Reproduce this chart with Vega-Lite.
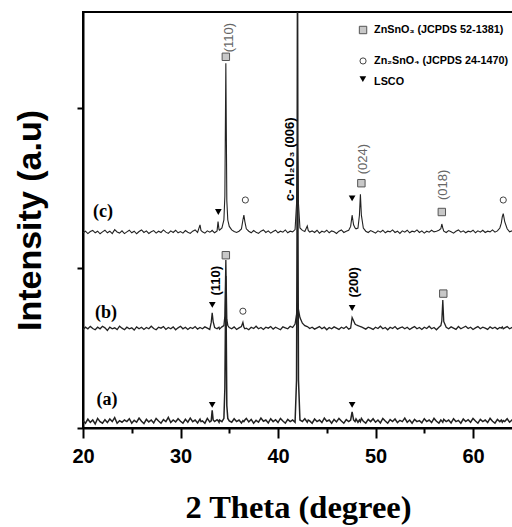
{
"$schema": "https://vega.github.io/schema/vega-lite/v6.json",
"autosize": {"type": "none"},
"padding": {"left": 83, "top": 12, "right": 0, "bottom": 99},
"width": 430,
"height": 416,
"background": "white",
"config": {"view": {"stroke": "black", "strokeWidth": 2}, "axis": {"grid": false}},
"encoding": {
  "x": {"field": "x", "type": "quantitative", "scale": {"domain": [20, 64.1], "nice": false, "zero": false},
    "axis": {"values": [20, 25, 30, 35, 40, 45, 50, 55, 60], "labelExpr": "datum.value % 10 === 0 ? datum.label : ''",
      "tickSize": {"condition": {"test": "datum.value % 10 === 0", "value": 10}, "value": 5},
      "tickWidth": 2, "tickColor": "black", "domainColor": "black", "domainWidth": 2, "labelFlush": false,
      "labelFont": "Liberation Sans", "labelFontWeight": "bold", "labelFontSize": 20, "labelColor": "black", "labelPadding": 8,
      "title": "2 Theta (degree)", "titleFont": "Liberation Serif", "titleFontSize": 32.5, "titleFontWeight": "bold", "titleColor": "black", "titlePadding": 25}},
  "y": {"field": "y", "type": "quantitative", "scale": {"domain": [0, 2.6], "nice": false, "zero": false},
    "axis": {"values": [0, 1, 2], "labels": false, "tickSize": 6, "tickWidth": 2, "tickColor": "black", "domainColor": "black", "domainWidth": 2,
      "title": "Intensity (a.u)", "titleFont": "Liberation Sans", "titleFontSize": 34, "titleFontWeight": "bold", "titleColor": "black", "titlePadding": 29}}
},
"layer": [
{
"data": {"values": [
{"x":20,"a":0.045,"b":0.615,"c":1.22},
{"x":20.25,"a":0.03,"b":0.63,"c":1.23},
{"x":20.5,"a":0.055,"b":0.62,"c":1.215},
{"x":20.75,"a":0.035,"b":0.635,"c":1.228},
{"x":21,"a":0.05,"b":0.622,"c":1.235},
{"x":21.25,"a":0.025,"b":0.614,"c":1.22},
{"x":21.5,"a":0.06,"b":0.63,"c":1.23},
{"x":21.75,"a":0.04,"b":0.62,"c":1.214},
{"x":22,"a":0.03,"b":0.636,"c":1.226},
{"x":22.25,"a":0.052,"b":0.626,"c":1.236},
{"x":22.5,"a":0.034,"b":0.61,"c":1.22},
{"x":22.75,"a":0.056,"b":0.63,"c":1.23},
{"x":23,"a":0.04,"b":0.62,"c":1.215},
{"x":23.25,"a":0.065,"b":0.626,"c":1.24},
{"x":23.5,"a":0.03,"b":0.615,"c":1.225},
{"x":23.75,"a":0.046,"b":0.636,"c":1.218},
{"x":24,"a":0.036,"b":0.624,"c":1.232},
{"x":24.25,"a":0.05,"b":0.614,"c":1.215},
{"x":24.5,"a":0.04,"b":0.63,"c":1.226},
{"x":24.75,"a":0.058,"b":0.62,"c":1.236},
{"x":25,"a":0.03,"b":0.626,"c":1.22},
{"x":25.25,"a":0.048,"b":0.612,"c":1.23},
{"x":25.5,"a":0.036,"b":0.632,"c":1.214},
{"x":25.75,"a":0.062,"b":0.62,"c":1.228},
{"x":26,"a":0.042,"b":0.63,"c":1.238},
{"x":26.25,"a":0.028,"b":0.616,"c":1.222},
{"x":26.5,"a":0.054,"b":0.628,"c":1.232},
{"x":26.75,"a":0.038,"b":0.62,"c":1.216},
{"x":27,"a":0.05,"b":0.636,"c":1.226},
{"x":27.25,"a":0.032,"b":0.622,"c":1.234},
{"x":27.5,"a":0.06,"b":0.614,"c":1.218},
{"x":27.75,"a":0.044,"b":0.63,"c":1.23},
{"x":28,"a":0.03,"b":0.624,"c":1.222},
{"x":28.25,"a":0.052,"b":0.634,"c":1.238},
{"x":28.5,"a":0.04,"b":0.616,"c":1.224},
{"x":28.75,"a":0.066,"b":0.628,"c":1.216},
{"x":29,"a":0.034,"b":0.62,"c":1.232},
{"x":29.25,"a":0.05,"b":0.632,"c":1.222},
{"x":29.5,"a":0.038,"b":0.614,"c":1.236},
{"x":29.75,"a":0.058,"b":0.626,"c":1.22},
{"x":30,"a":0.042,"b":0.636,"c":1.228},
{"x":30.25,"a":0.03,"b":0.62,"c":1.218},
{"x":30.5,"a":0.054,"b":0.63,"c":1.234},
{"x":30.75,"a":0.036,"b":0.616,"c":1.224},
{"x":31,"a":0.062,"b":0.628,"c":1.216},
{"x":31.25,"a":0.04,"b":0.622,"c":1.23},
{"x":31.5,"a":0.05,"b":0.634,"c":1.238},
{"x":31.75,"a":0.032,"b":0.618,"c":1.222},
{"x":32,"a":0.056,"b":0.628,"c":1.27},
{"x":32.1,"a":0.04,"b":0.625,"c":1.235},
{"x":32.25,"a":0.044,"b":0.62,"c":1.226},
{"x":32.5,"a":0.03,"b":0.632,"c":1.218},
{"x":32.75,"a":0.06,"b":0.624,"c":1.232},
{"x":33,"a":0.038,"b":0.616,"c":1.224},
{"x":33.15,"a":0.045,"b":0.66,"c":1.23},
{"x":33.25,"a":0.11,"b":0.72,"c":1.236},
{"x":33.35,"a":0.05,"b":0.665,"c":1.228},
{"x":33.5,"a":0.04,"b":0.628,"c":1.22},
{"x":33.75,"a":0.052,"b":0.62,"c":1.232},
{"x":33.85,"a":0.046,"b":0.626,"c":1.29},
{"x":33.95,"a":0.036,"b":0.63,"c":1.24},
{"x":34,"a":0.05,"b":0.618,"c":1.236},
{"x":34.25,"a":0.04,"b":0.632,"c":1.25},
{"x":34.45,"a":0.06,"b":0.64,"c":1.3},
{"x":34.55,"a":0.25,"b":0.7,"c":1.45},
{"x":34.65,"a":0.95,"b":1.05,"c":2.28},
{"x":34.75,"a":0.14,"b":0.68,"c":1.42},
{"x":34.85,"a":0.06,"b":0.64,"c":1.3},
{"x":35,"a":0.044,"b":0.628,"c":1.26},
{"x":35.25,"a":0.036,"b":0.62,"c":1.238},
{"x":35.5,"a":0.058,"b":0.632,"c":1.228},
{"x":35.75,"a":0.04,"b":0.616,"c":1.222},
{"x":36,"a":0.05,"b":0.626,"c":1.23},
{"x":36.25,"a":0.032,"b":0.634,"c":1.244},
{"x":36.4,"a":0.046,"b":0.66,"c":1.3},
{"x":36.5,"a":0.04,"b":0.63,"c":1.33},
{"x":36.6,"a":0.05,"b":0.62,"c":1.29},
{"x":36.75,"a":0.06,"b":0.624,"c":1.245},
{"x":37,"a":0.038,"b":0.614,"c":1.23},
{"x":37.25,"a":0.054,"b":0.63,"c":1.22},
{"x":37.5,"a":0.03,"b":0.622,"c":1.234},
{"x":37.75,"a":0.048,"b":0.636,"c":1.224},
{"x":38,"a":0.036,"b":0.62,"c":1.216},
{"x":38.25,"a":0.062,"b":0.628,"c":1.23},
{"x":38.5,"a":0.042,"b":0.616,"c":1.238},
{"x":38.75,"a":0.05,"b":0.63,"c":1.222},
{"x":39,"a":0.032,"b":0.624,"c":1.232},
{"x":39.25,"a":0.058,"b":0.634,"c":1.218},
{"x":39.5,"a":0.04,"b":0.618,"c":1.228},
{"x":39.75,"a":0.052,"b":0.63,"c":1.236},
{"x":40,"a":0.034,"b":0.622,"c":1.22},
{"x":40.25,"a":0.06,"b":0.614,"c":1.23},
{"x":40.5,"a":0.044,"b":0.632,"c":1.224},
{"x":40.75,"a":0.03,"b":0.626,"c":1.238},
{"x":41,"a":0.054,"b":0.62,"c":1.22},
{"x":41.25,"a":0.04,"b":0.636,"c":1.23},
{"x":41.5,"a":0.05,"b":0.628,"c":1.226},
{"x":41.75,"a":0.036,"b":0.65,"c":1.24},
{"x":41.9,"a":0.3,"b":0.71,"c":1.4},
{"x":41.95,"a":1.2,"b":0.74,"c":1.6},
{"x":42,"a":3.0,"b":0.78,"c":1.75},
{"x":42.05,"a":1.2,"b":0.76,"c":1.6},
{"x":42.1,"a":0.3,"b":0.74,"c":1.4},
{"x":42.25,"a":0.05,"b":0.69,"c":1.25},
{"x":42.5,"a":0.04,"b":0.655,"c":1.235},
{"x":42.75,"a":0.058,"b":0.64,"c":1.228},
{"x":43,"a":0.036,"b":0.634,"c":1.262},
{"x":43.1,"a":0.05,"b":0.63,"c":1.235},
{"x":43.25,"a":0.044,"b":0.622,"c":1.225},
{"x":43.5,"a":0.03,"b":0.63,"c":1.232},
{"x":43.75,"a":0.056,"b":0.618,"c":1.222},
{"x":44,"a":0.04,"b":0.626,"c":1.236},
{"x":44.25,"a":0.05,"b":0.634,"c":1.218},
{"x":44.5,"a":0.034,"b":0.62,"c":1.23},
{"x":44.75,"a":0.062,"b":0.63,"c":1.224},
{"x":45,"a":0.042,"b":0.614,"c":1.236},
{"x":45.25,"a":0.05,"b":0.628,"c":1.22},
{"x":45.5,"a":0.03,"b":0.62,"c":1.232},
{"x":45.75,"a":0.054,"b":0.632,"c":1.226},
{"x":46,"a":0.038,"b":0.624,"c":1.216},
{"x":46.25,"a":0.06,"b":0.616,"c":1.23},
{"x":46.5,"a":0.044,"b":0.63,"c":1.238},
{"x":46.75,"a":0.03,"b":0.622,"c":1.222},
{"x":47,"a":0.052,"b":0.634,"c":1.23},
{"x":47.25,"a":0.04,"b":0.618,"c":1.236},
{"x":47.45,"a":0.05,"b":0.625,"c":1.26},
{"x":47.6,"a":0.1,"b":0.69,"c":1.33},
{"x":47.75,"a":0.05,"b":0.67,"c":1.27},
{"x":47.9,"a":0.04,"b":0.65,"c":1.25},
{"x":48,"a":0.056,"b":0.645,"c":1.245},
{"x":48.2,"a":0.036,"b":0.64,"c":1.25},
{"x":48.35,"a":0.05,"b":0.636,"c":1.33},
{"x":48.45,"a":0.04,"b":0.634,"c":1.46},
{"x":48.55,"a":0.06,"b":0.632,"c":1.33},
{"x":48.75,"a":0.042,"b":0.626,"c":1.25},
{"x":49,"a":0.03,"b":0.618,"c":1.23},
{"x":49.25,"a":0.054,"b":0.63,"c":1.222},
{"x":49.5,"a":0.04,"b":0.624,"c":1.234},
{"x":49.75,"a":0.058,"b":0.616,"c":1.226},
{"x":50,"a":0.036,"b":0.63,"c":1.218},
{"x":50.25,"a":0.05,"b":0.622,"c":1.232},
{"x":50.5,"a":0.032,"b":0.636,"c":1.224},
{"x":50.75,"a":0.06,"b":0.62,"c":1.236},
{"x":51,"a":0.044,"b":0.628,"c":1.22},
{"x":51.25,"a":0.03,"b":0.614,"c":1.23},
{"x":51.5,"a":0.052,"b":0.63,"c":1.226},
{"x":51.75,"a":0.04,"b":0.622,"c":1.238},
{"x":52,"a":0.056,"b":0.634,"c":1.222},
{"x":52.25,"a":0.034,"b":0.618,"c":1.23},
{"x":52.5,"a":0.048,"b":0.626,"c":1.216},
{"x":52.75,"a":0.04,"b":0.632,"c":1.232},
{"x":53,"a":0.062,"b":0.62,"c":1.224},
{"x":53.25,"a":0.036,"b":0.63,"c":1.236},
{"x":53.5,"a":0.05,"b":0.616,"c":1.22},
{"x":53.75,"a":0.03,"b":0.626,"c":1.23},
{"x":54,"a":0.054,"b":0.634,"c":1.226},
{"x":54.25,"a":0.04,"b":0.62,"c":1.238},
{"x":54.5,"a":0.046,"b":0.628,"c":1.222},
{"x":54.75,"a":0.032,"b":0.616,"c":1.232},
{"x":55,"a":0.058,"b":0.63,"c":1.218},
{"x":55.25,"a":0.04,"b":0.622,"c":1.23},
{"x":55.5,"a":0.05,"b":0.636,"c":1.224},
{"x":55.75,"a":0.034,"b":0.62,"c":1.236},
{"x":56,"a":0.06,"b":0.628,"c":1.226},
{"x":56.25,"a":0.042,"b":0.614,"c":1.23},
{"x":56.5,"a":0.03,"b":0.63,"c":1.236},
{"x":56.7,"a":0.05,"b":0.64,"c":1.245},
{"x":56.8,"a":0.044,"b":0.67,"c":1.275},
{"x":56.9,"a":0.036,"b":0.8,"c":1.25},
{"x":57,"a":0.054,"b":0.665,"c":1.23},
{"x":57.25,"a":0.04,"b":0.63,"c":1.222},
{"x":57.5,"a":0.05,"b":0.62,"c":1.234},
{"x":57.75,"a":0.032,"b":0.632,"c":1.226},
{"x":58,"a":0.058,"b":0.624,"c":1.218},
{"x":58.25,"a":0.04,"b":0.616,"c":1.23},
{"x":58.5,"a":0.048,"b":0.634,"c":1.238},
{"x":58.75,"a":0.03,"b":0.62,"c":1.224},
{"x":59,"a":0.056,"b":0.628,"c":1.232},
{"x":59.25,"a":0.04,"b":0.636,"c":1.22},
{"x":59.5,"a":0.052,"b":0.622,"c":1.23},
{"x":59.75,"a":0.036,"b":0.63,"c":1.226},
{"x":60,"a":0.06,"b":0.616,"c":1.236},
{"x":60.25,"a":0.044,"b":0.626,"c":1.22},
{"x":60.5,"a":0.03,"b":0.634,"c":1.232},
{"x":60.75,"a":0.054,"b":0.62,"c":1.224},
{"x":61,"a":0.04,"b":0.63,"c":1.236},
{"x":61.25,"a":0.05,"b":0.624,"c":1.222},
{"x":61.5,"a":0.034,"b":0.616,"c":1.23},
{"x":61.75,"a":0.06,"b":0.632,"c":1.226},
{"x":62,"a":0.042,"b":0.622,"c":1.238},
{"x":62.25,"a":0.03,"b":0.63,"c":1.224},
{"x":62.5,"a":0.054,"b":0.618,"c":1.232},
{"x":62.75,"a":0.04,"b":0.628,"c":1.25},
{"x":62.9,"a":0.05,"b":0.624,"c":1.28},
{"x":63,"a":0.036,"b":0.632,"c":1.32},
{"x":63.1,"a":0.046,"b":0.62,"c":1.34},
{"x":63.25,"a":0.04,"b":0.626,"c":1.29},
{"x":63.5,"a":0.058,"b":0.634,"c":1.245},
{"x":63.75,"a":0.036,"b":0.62,"c":1.226},
{"x":64,"a":0.05,"b":0.628,"c":1.232},
{"x":64.25,"a":0.04,"b":0.622,"c":1.224}
]},
"transform": [{"fold": ["a", "b", "c"], "as": ["t", "y"]}],
"mark": {"type": "line", "clip": true, "color": "#222"},
"encoding": {
  "detail": {"field": "t", "type": "nominal"},
  "strokeWidth": {"field": "t", "type": "nominal", "scale": {"domain": ["a", "b", "c"], "range": [1.5, 1.1, 1.1]}, "legend": null}
}
},
{
"data": {"values": [
{"x": 34.65, "y": 2.32}, {"x": 34.65, "y": 1.08}, {"x": 48.55, "y": 1.53}, {"x": 56.8, "y": 1.35}, {"x": 56.95, "y": 0.84}, {"x": 48.72, "y": 2.4875}
]},
"mark": {"type": "point", "shape": "square", "filled": true, "fill": "#c8c8c8", "stroke": "#555", "strokeWidth": 1, "size": 55, "opacity": 1}
},
{
"data": {"values": [
{"x": 36.65, "y": 1.425}, {"x": 36.4, "y": 0.73}, {"x": 63.1, "y": 1.425}, {"x": 48.72, "y": 2.294}
]},
"mark": {"type": "point", "shape": "circle", "filled": true, "fill": "white", "stroke": "#444", "strokeWidth": 1, "size": 38, "opacity": 1}
},
{
"data": {"values": [
{"x": 33.88, "y": 1.35}, {"x": 33.26, "y": 0.77}, {"x": 33.25, "y": 0.145}, {"x": 47.6, "y": 1.435}, {"x": 47.6, "y": 0.75}, {"x": 47.6, "y": 0.145}, {"x": 48.7, "y": 2.18}
]},
"mark": {"type": "point", "shape": "triangle-down", "filled": true, "color": "black", "size": 45, "opacity": 1}
},
{
"data": {"values": [
{"x": 34.95, "y": 2.44, "label": "(110)"}, {"x": 48.75, "y": 1.68, "label": "(024)"}, {"x": 56.95, "y": 1.52, "label": "(018)"}
]},
"mark": {"type": "text", "angle": 270, "align": "center", "baseline": "middle", "font": "Liberation Sans", "fontSize": 13, "color": "#666"},
"encoding": {"text": {"field": "label"}}
},
{
"data": {"values": [
{"x": 41.2, "y": 1.68, "label": "c- Al₂O₃ (006)"}, {"x": 33.6, "y": 0.92, "label": "(110)"}, {"x": 47.8, "y": 0.91, "label": "(200)"}
]},
"mark": {"type": "text", "angle": 270, "align": "center", "baseline": "middle", "font": "Liberation Sans", "fontWeight": "bold", "fontSize": 13, "color": "black"},
"encoding": {"text": {"field": "label"}}
},
{
"data": {"values": [
{"x": 49.85, "y": 2.4875, "label": "ZnSnO₃ (JCPDS 52-1381)"}, {"x": 49.85, "y": 2.294, "label": "Zn₂SnO₄ (JCPDS 24-1470)"}, {"x": 49.85, "y": 2.165, "label": "LSCO"}
]},
"mark": {"type": "text", "align": "left", "baseline": "middle", "font": "Liberation Sans", "fontWeight": "bold", "fontSize": 10.8, "color": "black"},
"encoding": {"text": {"field": "label"}}
},
{
"data": {"values": [
{"x": 22.05, "y": 1.35, "label": "(c)"}, {"x": 22.35, "y": 0.72, "label": "(b)"}, {"x": 22.45, "y": 0.175, "label": "(a)"}
]},
"mark": {"type": "text", "align": "center", "baseline": "middle", "font": "Liberation Serif", "fontWeight": "bold", "fontSize": 18, "color": "black"},
"encoding": {"text": {"field": "label"}}
}
]
}
